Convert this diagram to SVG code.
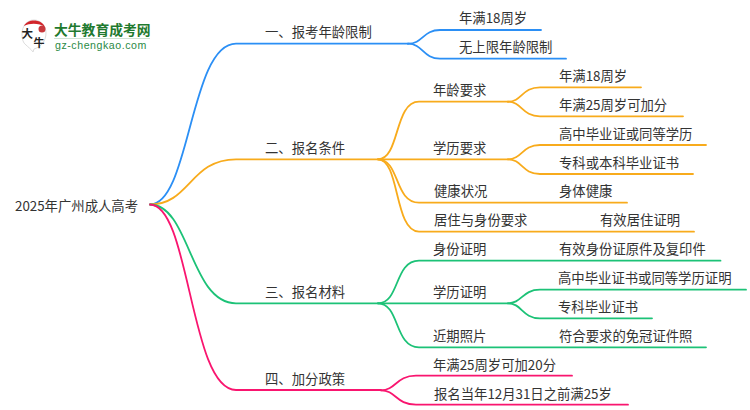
<svg xmlns="http://www.w3.org/2000/svg" width="750" height="410" viewBox="0 0 750 410">
<style>
text{font-family:"Noto Sans CJK SC","Liberation Sans",sans-serif;font-size:13.35px;fill:#333}
.c{fill:none;stroke-width:1.8;stroke-linecap:round}
.b{stroke:#2b8ff5}.o{stroke:#f8ab1c}.g{stroke:#1cc277}.p{stroke:#f9156f}
</style>
<rect width="750" height="410" fill="#fff"/>
<g id="logo">
<path d="M26 45C28 47 31 49 33 52L34 49C41 47 46 41 46 33C46 25 40 20 34 20C27 20 22 26 22 34C22 39 23 43 26 45Z" fill="#fff" stroke="#ddd" stroke-width="1"/>
<path d="M24 26C27 19 41 18 45 27C39 23 30 23 24 26Z" fill="#d2242a"/>
<circle cx="42" cy="29" r="3.500" fill="#c8383c"/>
<text x="21.500" y="37.500" style="font-size:11.500px;fill:#222;font-weight:700">大</text>
<text x="33.500" y="46.500" style="font-size:11px;fill:#222;font-weight:700">牛</text>
<text x="54" y="35" style="font-size:13.800px;font-weight:700;fill:#1f7a2f">大牛教育成考网</text>
<text x="55" y="49" style="font-family:'Liberation Sans',sans-serif;font-size:10.600px;fill:#2b8a46;letter-spacing:.55px">gz-chengkao.com</text>
<line x1="54" y1="38.500" x2="150" y2="38.500" stroke="#cfe3d4" stroke-width="1"/>
</g>
<g id="connectors">
<path class="c b" d="M150 204.500C190 204.500 190 43.700 236 43.700L408 43.700"/>
<path class="c b" d="M408 43.700C423 43.700 423 30 440 30L541 30"/>
<path class="c b" d="M408 43.700C423 43.700 423 58.700 440 58.700L566 58.700"/>
<path class="c o" d="M150 204.500C190 204.500 190 159.300 236 159.300L378 159.300"/>
<path class="c o" d="M378 159.300C400 159.300 394 101.700 419 101.700L508 101.700"/>
<path class="c o" d="M508 101.700C522 101.700 522 87.300 540 87.300L641 87.300"/>
<path class="c o" d="M508 101.700C522 101.700 522 116.300 540 116.300L683 116.300"/>
<path class="c o" d="M378 159.300L508 159.300"/>
<path class="c o" d="M508 159.300C522 159.300 522 145 540 145L706 145"/>
<path class="c o" d="M508 159.300C522 159.300 522 174 540 174L693 174"/>
<path class="c o" d="M378 159.300C400 159.300 394 202.700 419 202.700L627 202.700"/>
<path class="c o" d="M378 159.300C400 159.300 394 231.700 419 231.700L694 231.700"/>
<path class="c g" d="M150 204.500C190 204.500 190 303.300 236 303.300L378 303.300"/>
<path class="c g" d="M378 303.300C400 303.300 394 260.700 419 260.700L720.500 260.700"/>
<path class="c g" d="M378 303.300L508 303.300"/>
<path class="c g" d="M508 303.300C522 303.300 522 289.700 540 289.700L746 289.700"/>
<path class="c g" d="M508 303.300C522 303.300 522 318.300 540 318.300L652 318.300"/>
<path class="c g" d="M378 303.300C400 303.300 394 347.300 419 347.300L706 347.300"/>
<path class="c p" d="M150 204.500C190 204.500 190 390 236 390L381 390"/>
<path class="c p" d="M381 390.300C396 390.300 396 375.700 416 375.700L572 375.700"/>
<path class="c p" d="M381 390.300C396 390.300 396 404.700 416 404.700L628 404.700"/>
</g>
<g id="root"><text x="15" y="211">2025年广州成人高考</text></g>
<g id="n1"><text x="265" y="37">一、报考年龄限制</text></g>
<g id="n1a"><text x="459" y="23">年满18周岁</text></g>
<g id="n1b"><text x="459" y="52">无上限年龄限制</text></g>
<g id="n2"><text x="265" y="153">二、报名条件</text></g>
<g id="n2a"><text x="433" y="95">年龄要求</text></g>
<g id="n2a1"><text x="559" y="81">年满18周岁</text></g>
<g id="n2a2"><text x="559" y="110">年满25周岁可加分</text></g>
<g id="n2b"><text x="433" y="153">学历要求</text></g>
<g id="n2b1"><text x="559" y="139">高中毕业证或同等学历</text></g>
<g id="n2b2"><text x="559" y="168">专科或本科毕业证书</text></g>
<g id="n2c"><text x="434" y="196">健康状况</text></g>
<g id="n2c1"><text x="559" y="196">身体健康</text></g>
<g id="n2d"><text x="434" y="225">居住与身份要求</text></g>
<g id="n2d1"><text x="600" y="225">有效居住证明</text></g>
<g id="n3"><text x="265" y="297">三、报名材料</text></g>
<g id="n3a"><text x="433" y="254">身份证明</text></g>
<g id="n3a1"><text x="559" y="254">有效身份证原件及复印件</text></g>
<g id="n3b"><text x="433" y="297">学历证明</text></g>
<g id="n3b1"><text x="558" y="283">高中毕业证书或同等学历证明</text></g>
<g id="n3b2"><text x="558" y="312">专科毕业证书</text></g>
<g id="n3c"><text x="433" y="341">近期照片</text></g>
<g id="n3c1"><text x="559" y="341">符合要求的免冠证件照</text></g>
<g id="n4"><text x="265" y="384">四、加分政策</text></g>
<g id="n4a"><text x="433" y="370">年满25周岁可加20分</text></g>
<g id="n4b"><text x="434" y="399">报名当年12月31日之前满25岁</text></g>
</svg>
